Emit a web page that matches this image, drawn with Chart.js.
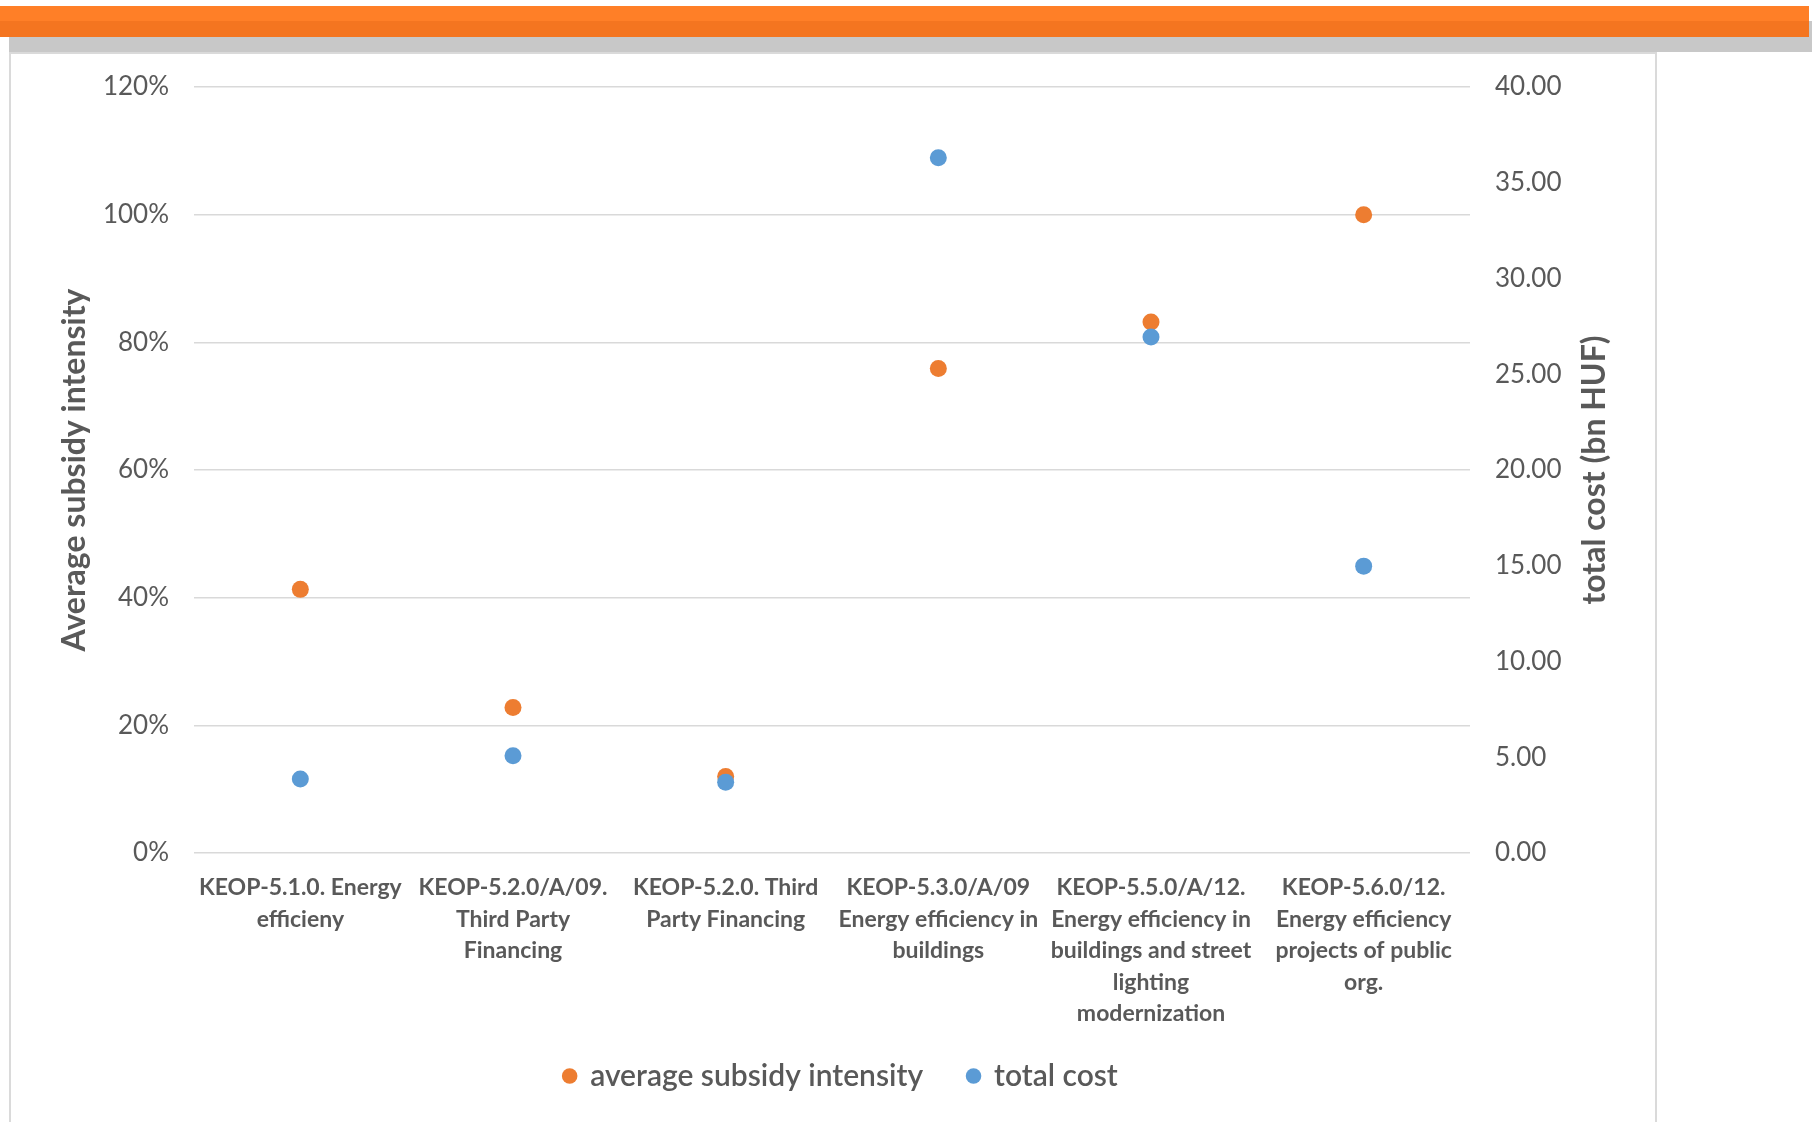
<!DOCTYPE html>
<html lang="en">
<head>
<meta charset="UTF-8">
<title>KEOP energy efficiency programmes</title>
<script src="https://cdn.jsdelivr.net/npm/chart.js"></script>
<style>
  body { margin: 0; width: 1812px; height: 1122px; position: relative; background: #fff; overflow: hidden; }
  .bar-orange { position: absolute; left: 0; top: 6px; width: 1809px; height: 15px; background: #FF7F27; }
  .bar-gray { position: absolute; left: 9px; top: 21px; width: 1803px; height: 31px; background: #C8C8C8; }
  .bar-orange2 { position: absolute; left: 0; top: 21px; width: 1809px; height: 16px; background: #F47520; }
  .panel { position: absolute; left: 9px; top: 52px; width: 1644px; height: 1068px; border: 2px solid #DADADA; background: #fff; }
  #wrap { position: absolute; left: 0; top: 0; width: 1812px; height: 1122px; }
</style>
</head>
<body>
<div class="bar-orange"></div>
<div class="bar-gray"></div>
<div class="bar-orange2"></div>
<div class="panel"></div>
<div id="wrap"><canvas id="myChart"></canvas></div>

<script>
  // programmes on the x axis
  const categories = [
    ['KEOP-5.1.0. Energy', 'efficieny'],
    ['KEOP-5.2.0/A/09.', 'Third Party', 'Financing'],
    ['KEOP-5.2.0. Third', 'Party Financing'],
    ['KEOP-5.3.0/A/09', 'Energy efficiency in', 'buildings'],
    ['KEOP-5.5.0/A/12.', 'Energy efficiency in', 'buildings and street', 'lighting', 'modernization'],
    ['KEOP-5.6.0/12.', 'Energy efficiency', 'projects of public', 'org.']
  ];
  // average subsidy intensity, %
  const subsidyIntensity = [41.3, 22.8, 12.0, 75.9, 83.2, 100];
  // total cost, bn HUF
  const totalCost = [3.87, 5.08, 3.69, 36.3, 26.95, 14.98];

  const textColor = '#595959';
  const fontName = 'Lato';

  // right axis title reads bottom-to-top, chart.js would rotate it the other way
  const rightTitle = {
    id: 'rightTitle',
    afterDraw(chart) {
      const c = chart.ctx;
      const area = chart.chartArea;
      c.save();
      c.translate(1595, (area.top + area.bottom) / 2);
      c.rotate(-Math.PI / 2);
      c.font = 'bold 32px ' + fontName;
      c.fillStyle = textColor;
      c.textAlign = 'center';
      c.textBaseline = 'middle';
      c.fillText('total cost (bn HUF)', 0, 0);
      c.restore();
    }
  };

  const ctx = document.getElementById('myChart');
  const myChart = new Chart(ctx, {
    type: 'line',
    data: {
      labels: categories,
      datasets: [
        { label: 'average subsidy intensity', data: subsidyIntensity, yAxisID: 'y',
          showLine: false, pointRadius: 8.5, pointHoverRadius: 8.5, borderWidth: 0,
          backgroundColor: '#ED7D31', borderColor: '#ED7D31', order: 1 },
        { label: 'total cost', data: totalCost, yAxisID: 'y1',
          showLine: false, pointRadius: 8.5, pointHoverRadius: 8.5, borderWidth: 0,
          backgroundColor: '#5B9BD5', borderColor: '#5B9BD5', order: 0 }
      ]
    },
    options: {
      responsive: true,
      maintainAspectRatio: false,
      animation: false,
      layout: { padding: { left: 20, right: 150, top: 87, bottom: 21 } },
      plugins: {
        tooltip: { enabled: false },
        legend: {
          position: 'bottom',
          labels: {
            usePointStyle: true,
            pointStyle: 'circle',
            boxWidth: 11,
            boxHeight: 11,
            padding: 30,
            color: textColor,
            font: { family: fontName, size: 30, weight: '600' },
            // keep dataset order and leave a wider gap after the first entry
            generateLabels: chart => Chart.defaults.plugins.legend.labels.generateLabels(chart)
              .sort((a, b) => a.datasetIndex - b.datasetIndex)
              .map((item, i) => { if (i === 0) item.text += '  '; return item; })
          }
        }
      },
      scales: {
        x: {
          offset: true,
          grid: { display: false, drawTicks: false },
          border: { display: false },
          ticks: {
            color: textColor, maxRotation: 0, autoSkip: false, padding: 19,
            font: { family: fontName, size: 23, weight: 'bold', lineHeight: 1.37 }
          },
          afterFit: s => { s.height = 178; }
        },
        y: {
          position: 'left',
          min: 0, max: 120,
          ticks: {
            stepSize: 20, padding: 25, color: textColor,
            font: { family: fontName, size: 26 },
            callback: v => v + '%'
          },
          grid: { color: '#D9D9D9', lineWidth: 1.5, drawTicks: false },
          border: { display: false },
          title: {
            display: true, text: 'Average subsidy intensity', color: textColor,
            font: { family: fontName, size: 32, weight: 'bold' },
            padding: { top: 35, bottom: 0 }
          },
          afterFit: s => { s.width = 174; }
        },
        y1: {
          position: 'right',
          min: 0, max: 40,
          ticks: {
            stepSize: 5, padding: 25, color: textColor,
            font: { family: fontName, size: 26 },
            callback: v => v.toFixed(2)
          },
          grid: { display: false, drawTicks: false },
          border: { display: false },
          afterFit: s => { s.width = 192; }
        }
      }
    },
    plugins: [rightTitle]
  });
</script>
</body>
</html>
